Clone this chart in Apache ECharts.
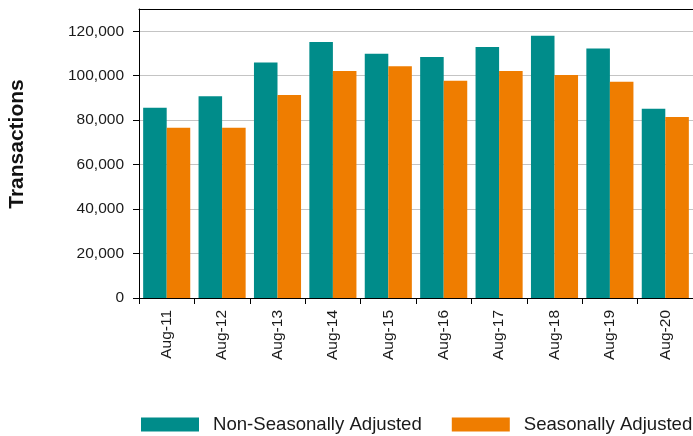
<!DOCTYPE html>
<html>
<head>
<meta charset="utf-8">
<script src="https://cdn.jsdelivr.net/npm/echarts@6/dist/echarts.min.js"></script>
<style>
  html, body { margin: 0; padding: 0; background: #fff; }
  #chart { width: 693px; height: 436px; }
</style>
</head>
<body>
<div id="chart"></div>
<script>
// August transaction counts, 2011–2020
const categories = ['Aug-11', 'Aug-12', 'Aug-13', 'Aug-14', 'Aug-15', 'Aug-16', 'Aug-17', 'Aug-18', 'Aug-19', 'Aug-20'];
const nonSeasonallyAdjusted = [85600, 90800, 105900, 115100, 109900, 108400, 112900, 118000, 112200, 85100];
const seasonallyAdjusted = [76600, 76600, 91300, 102100, 104300, 97700, 102100, 100300, 97300, 81400];
const yTicks = [0, 20000, 40000, 60000, 80000, 100000, 120000];

const FONT = '"Liberation Sans", Arial, sans-serif';
const TEAL = '#008c8a';
const ORANGE = '#ef7d00';

const chart = echarts.init(document.getElementById('chart'), null, { renderer: 'canvas' });

chart.setOption({
  animation: false,
  textStyle: { fontFamily: FONT },
  grid: { left: 139, top: 9, right: 0, bottom: 138, containLabel: false },
  legend: {
    left: 141,
    top: 415,
    padding: 0,
    itemWidth: 58,
    itemHeight: 14,
    itemGap: 30,
    icon: 'rect',
    textStyle: { fontFamily: FONT, fontSize: 18.6, color: '#1a1a1a', padding: [0, 0, 0, 9] },
    data: ['Non-Seasonally Adjusted', 'Seasonally Adjusted']
  },
  xAxis: [
    {
      type: 'category',
      data: categories,
      axisLine: { show: true, lineStyle: { color: '#000', width: 1 } },
      axisTick: { show: true, alignWithLabel: false, length: 6, lineStyle: { color: '#000' } },
      axisLabel: { rotate: 90, fontSize: 15.5, color: '#1a1a1a', margin: 12, fontFamily: FONT }
    },
    {
      type: 'category',
      position: 'top',
      data: categories,
      axisLine: { show: true, lineStyle: { color: '#000', width: 1 } },
      axisTick: { show: false },
      axisLabel: { show: false }
    }
  ],
  yAxis: {
    type: 'value',
    min: 0,
    max: 130000,
    interval: 20000,
    axisLine: { show: true, lineStyle: { color: '#000', width: 1 } },
    axisTick: { show: true, length: 6, lineStyle: { color: '#000' }, customValues: yTicks },
    axisLabel: {
      fontSize: 15.5,
      color: '#1a1a1a',
      margin: 15,
      fontFamily: FONT,
      customValues: yTicks,
      formatter: v => v.toLocaleString('en-US')
    },
    splitLine: { show: true, lineStyle: { color: '#c4c4c4', width: 1 } }
  },
  graphic: [
    {
      type: 'text',
      x: 17,
      y: 144,
      rotation: Math.PI / 2,
      style: {
        text: 'Transactions',
        fontFamily: FONT,
        fontSize: 21,
        fontWeight: 'bold',
        fill: '#111',
        align: 'center',
        verticalAlign: 'middle'
      }
    }
  ],
  series: [
    {
      name: 'Non-Seasonally Adjusted',
      type: 'bar',
      data: nonSeasonallyAdjusted,
      barGap: '0%',
      barCategoryGap: '15%',
      itemStyle: { color: TEAL }
    },
    {
      name: 'Seasonally Adjusted',
      type: 'bar',
      data: seasonallyAdjusted,
      barGap: '0%',
      barCategoryGap: '15%',
      itemStyle: { color: ORANGE }
    }
  ]
});
</script>
</body>
</html>
